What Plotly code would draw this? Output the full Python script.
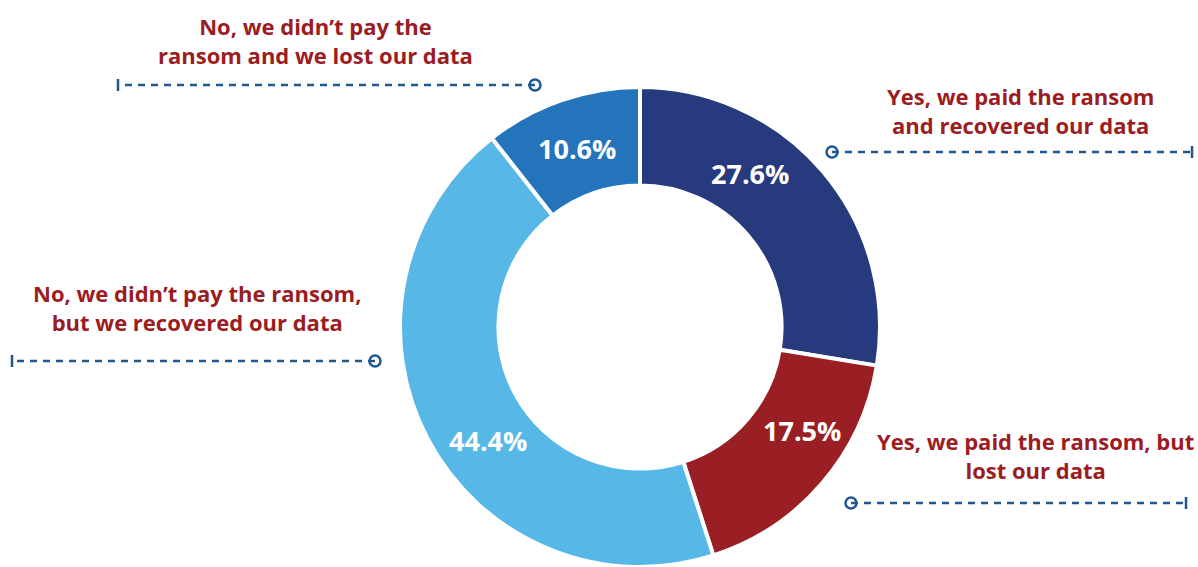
import plotly.graph_objects as go

# ---- data ----
labels = [
    "Yes, we paid the ransom<br>and recovered our data",
    "Yes, we paid the ransom, but<br>lost our data",
    "No, we didn\u2019t pay the ransom,<br>but we recovered our data",
    "No, we didn\u2019t pay the<br>ransom and we lost our data",
]
values = [27.6, 17.5, 44.4, 10.6]
colors = ["#263a7d", "#9a1f24", "#57b8e7", "#2474bb"]

# ---- layout constants (page pixel space) ----
W, H = 1198, 567
LINE_COLOR = "#1f5893"
TEXT_COLOR = "#9b1c22"
FONT = "Open Sans"

# donut geometry (page px)
PIE_CX, PIE_CY, PIE_R = 640, 327, 240

# percent label anchor points (page px), same order as values
pct_pos = [(750, 173), (802, 430), (488, 440), (577, 148)]

# callout: (label index, text center x, baselines, line y, circle x, tick x)
callouts = [
    (0, 1020, (104, 131), 152, 832, 1192),
    (1, 1035, (449, 476), 503, 851, 1186),
    (2, 197, (302, 327), 361, 375, 12),
    (3, 315, (34, 60), 85, 535, 118),
]

fig = go.Figure()

fig.add_trace(go.Pie(
    labels=labels,
    values=values,
    marker=dict(colors=colors, line=dict(color="white", width=4)),
    hole=0.59,
    sort=False,
    direction="clockwise",
    rotation=0,
    textinfo="none",
    domain=dict(
        x=[(PIE_CX - PIE_R) / W, (PIE_CX + PIE_R) / W],
        y=[max(0, (H - PIE_CY - PIE_R) / H), (H - PIE_CY + PIE_R) / H],
    ),
    showlegend=False,
    hoverinfo="label+value",
))

# percentage labels
for v, (px, py) in zip(values, pct_pos):
    fig.add_annotation(x=px, y=py, xref="x", yref="y",
                       text=f"{v:.1f}%", showarrow=False,
                       xanchor="center", yanchor="middle",
                       font=dict(family=FONT, size=27, color="white", weight="bold"))

cx, cy = [], []
for idx, tx, baselines, ly, circ_x, tick_x in callouts:
    fig.add_shape(type="line", x0=circ_x, x1=tick_x, y0=ly, y1=ly,
                  xref="x", yref="y",
                  line=dict(color=LINE_COLOR, width=2.5, dash="7px,6px"))
    fig.add_shape(type="line", x0=tick_x, x1=tick_x, y0=ly - 6, y1=ly + 6,
                  xref="x", yref="y",
                  line=dict(color=LINE_COLOR, width=2.5))
    cx.append(circ_x)
    cy.append(ly)
    fig.add_annotation(x=tx, y=sum(baselines) / 2 - 7, xref="x", yref="y",
                       text=labels[idx], showarrow=False,
                       xanchor="center", yanchor="middle", align="center",
                       font=dict(family=FONT, size=22, color=TEXT_COLOR, weight="bold"))

fig.add_trace(go.Scatter(
    x=cx, y=cy, mode="markers",
    marker=dict(symbol="circle", size=11, color="white",
                line=dict(color=LINE_COLOR, width=2.5)),
    showlegend=False, hoverinfo="skip", cliponaxis=False,
))

fig.update_layout(
    width=W, height=H,
    margin=dict(l=0, r=0, t=0, b=0),
    paper_bgcolor="white",
    plot_bgcolor="white",
    xaxis=dict(range=[0, W], visible=False, fixedrange=True),
    yaxis=dict(range=[H, 0], visible=False, fixedrange=True),
)

fig.write_html(
    "out.html",
    config={"displayModeBar": False},
    post_script="document.body.style.margin='0';document.body.style.overflow='hidden';",
)
